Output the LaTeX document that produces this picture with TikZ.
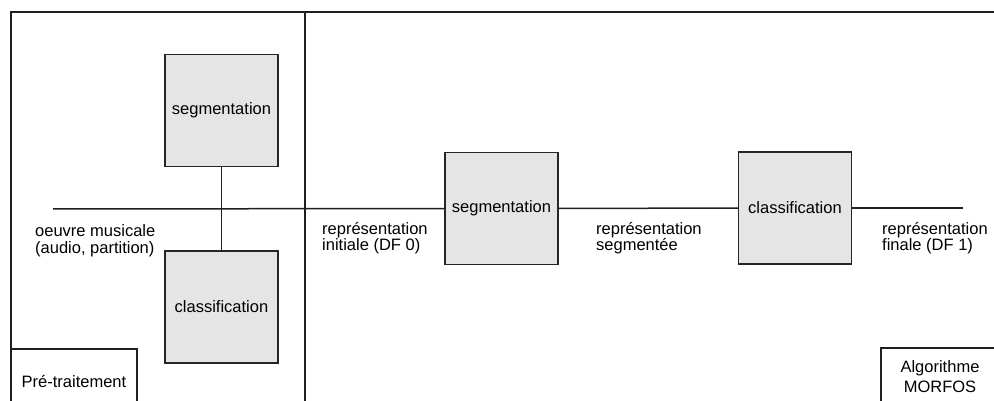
\documentclass[tikz,border=0pt]{standalone}
\usepackage{fontspec}
\setmainfont{Liberation Sans}
\begin{document}
\begin{tikzpicture}[x=1pt,y=-1pt, font=\fontsize{16.5}{17}\selectfont,
  line/.style={line width=1.5pt, draw=black!88},
  proc/.style={draw=black!85, line width=1.3pt, fill=black!10, minimum width=113pt, minimum height=112pt, inner sep=0pt},
  lbl/.style={anchor=base west, align=left, inner sep=0pt},
  tag/.style={draw=black!88, line width=1.3pt, inner sep=0pt, align=center}]
\useasboundingbox (0,0) rectangle (994,401);
\clip (0,0) rectangle (994,401);
\draw[line] (11,401) -- (11,12) -- (994,12);
\draw[line] (305,12) -- (305,401);
\node[tag, minimum width=126pt, minimum height=66pt] (pre) at (74,382) {Pré-traitement};
\node[tag, minimum width=118pt, minimum height=58pt] (algo) at (940,377) {Algorithme\\[3pt]MORFOS};
\node[proc] (seg1) at (221.5,110.5) {segmentation};
\node[proc] (cls1) at (221.5,307) {classification};
\node[proc] (seg2) at (501.5,208.5) {segmentation};
\node[proc] (cls2) at (795,208) {classification};
\coordinate (in) at (53,209);
\coordinate (out) at (963,208);
\draw[line] (in) -- (seg2.west);
\draw[line] (seg1) -- (cls1);
\draw[line] (seg2) -- (cls2);
\draw[line] (cls2) -- (out);
\node[lbl] (l0) at (35,253) {oeuvre musicale\\(audio, partition)};
\node[lbl] (l1) at (322,251) {représentation\\initiale (DF 0)};
\node[lbl] (l2) at (596,251) {représentation\\segmentée};
\node[lbl] (l3) at (882,251) {représentation\\finale (DF 1)};
\end{tikzpicture}
\end{document}
